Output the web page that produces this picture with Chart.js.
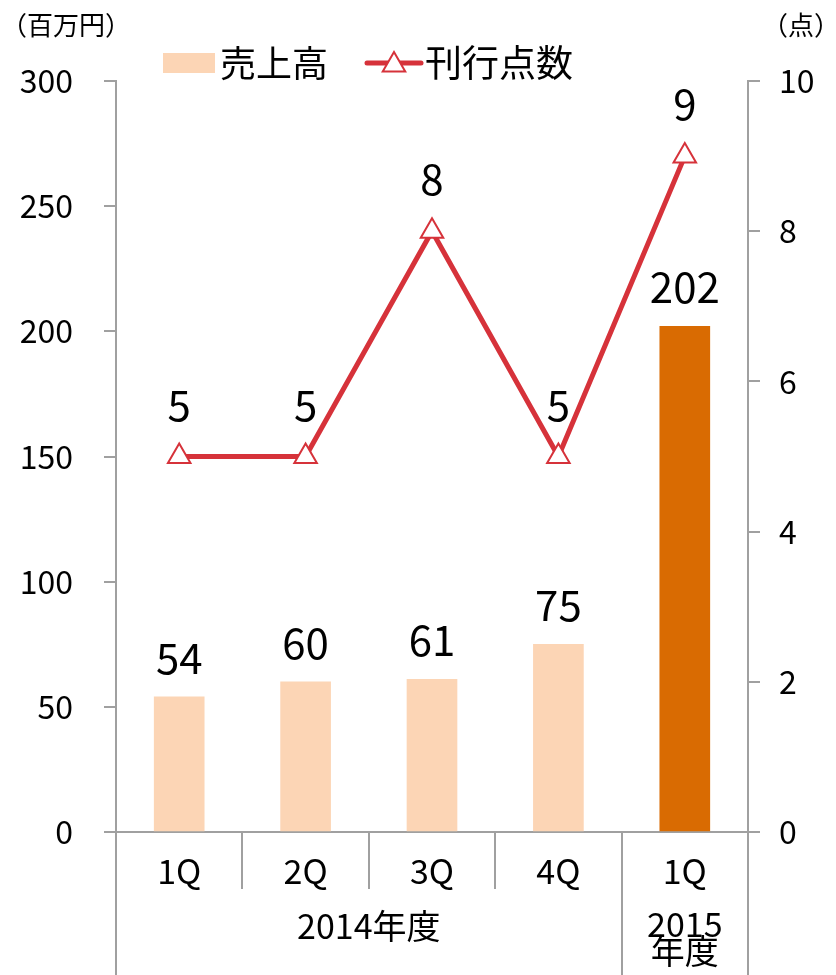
<!DOCTYPE html>
<html>
<head>
<meta charset="utf-8">
<script src="https://cdn.jsdelivr.net/npm/chart.js@4/dist/chart.umd.min.js"></script>
<style>
  html, body { margin: 0; padding: 0; background: #fff; }
  #wrap { width: 836px; height: 975px; }
</style>
</head>
<body>
<div id="wrap"><canvas id="chart" width="836" height="975"></canvas></div>
<script>
    // データ
    const categories = ['1Q', '2Q', '3Q', '4Q', '1Q'];
    const fiscalYears = [['2014年度'], ['2015', '年度']];
    const fiscalYearSpans = [[0, 3], [4, 4]];   // 先頭と末尾のカテゴリ番号
    const salesValues = [54, 60, 61, 75, 202];      // 売上高（百万円）
    const titleCounts = [5, 5, 8, 5, 9];            // 刊行点数（点）
    const salesTicks = [0, 50, 100, 150, 200, 250, 300];
    const countTicks = [0, 2, 4, 6, 8, 10];

    const salesLabel = '売上高';
    const countLabel = '刊行点数';
    const salesUnit = '（百万円）';
    const countUnit = '（点）';

    // 色
    const lightOrange = '#FCD5B5';
    const darkOrange = '#D96B02';
    const lineRed = '#D6323A';
    const axisGray = '#A0A0A0';
    const fontFamily = "'Noto Sans CJK JP', 'Noto Sans', sans-serif";

    Chart.defaults.font.family = fontFamily;
    Chart.defaults.color = '#000';

    // 三角マーカー（Chart.jsと同じ形）
    function drawTriangle(ctx, x, y, r) {
        let rad = 0;
        ctx.beginPath();
        for (let i = 0; i < 3; i++) {
            const px = x + Math.sin(rad) * r;
            const py = y - Math.cos(rad) * r;
            if (i === 0) ctx.moveTo(px, py); else ctx.lineTo(px, py);
            rad += Math.PI * 2 / 3;
        }
        ctx.closePath();
        ctx.fillStyle = '#fff';
        ctx.fill();
        ctx.strokeStyle = lineRed;
        ctx.lineWidth = 2;
        ctx.stroke();
    }

    // 値ラベル、凡例、単位、年度区切り
    const decorations = {
        id: 'decorations',
        afterDatasetsDraw(chart) {
            const ctx = chart.ctx;
            ctx.save();
            ctx.fillStyle = '#000';
            ctx.textAlign = 'center';
            ctx.textBaseline = 'alphabetic';
            ctx.font = '42px ' + fontFamily;
            chart.getDatasetMeta(1).data.forEach((bar, i) => {
                ctx.fillText(String(salesValues[i]), bar.x, bar.y - 23);
            });
            chart.getDatasetMeta(0).data.forEach((pt, i) => {
                ctx.fillText(String(titleCounts[i]), pt.x, pt.y - 36);
            });
            ctx.restore();
        },
        afterDraw(chart) {
            const ctx = chart.ctx;
            const x = chart.scales.x;
            const area = chart.chartArea;
            const step = (x.right - x.left) / categories.length;
            ctx.save();

            // カテゴリ区切り線
            ctx.strokeStyle = axisGray;
            ctx.lineWidth = 2;
            const groupEdges = [];
            fiscalYearSpans.forEach(s => { groupEdges.push(s[0]); groupEdges.push(s[1] + 1); });
            for (let i = 0; i <= categories.length; i++) {
                const px = Math.round(x.left + i * step);
                const long = groupEdges.includes(i);
                ctx.beginPath();
                ctx.moveTo(px, area.bottom);
                ctx.lineTo(px, long ? chart.height : area.bottom + 57);
                ctx.stroke();
            }

            // 年度ラベル
            ctx.fillStyle = '#000';
            ctx.textAlign = 'center';
            ctx.textBaseline = 'middle';
            ctx.font = '34px ' + fontFamily;
            fiscalYears.forEach((lines, g) => {
                const cx = x.left + (fiscalYearSpans[g][0] + fiscalYearSpans[g][1] + 1) / 2 * step;
                const top = lines.length === 1 ? 926 : 924;
                lines.forEach((t, k) => ctx.fillText(t, cx, top + k * 27));
            });

            // 単位
            ctx.font = '26px ' + fontFamily;
            ctx.textAlign = 'left';
            ctx.fillText(salesUnit, 1, 25);
            ctx.textAlign = 'right';
            ctx.fillText(countUnit, 840, 25);

            // 凡例
            ctx.fillStyle = lightOrange;
            ctx.fillRect(163, 53, 52, 20);
            ctx.fillStyle = '#000';
            ctx.textAlign = 'left';
            ctx.font = '36px ' + fontFamily;
            ctx.fillText(salesLabel, 220, 63);
            ctx.strokeStyle = lineRed;
            ctx.lineWidth = 5;
            ctx.lineCap = 'round';
            ctx.beginPath();
            ctx.moveTo(367, 63);
            ctx.lineTo(421, 63);
            ctx.stroke();
            drawTriangle(ctx, 394, 65, 13);
            ctx.fillStyle = '#000';
            ctx.font = '37px ' + fontFamily;
            ctx.fillText(countLabel, 425, 63);

            ctx.restore();
        }
    };

    const ctx = document.getElementById('chart').getContext('2d');
    new Chart(ctx, {
        type: 'bar',
        data: {
            labels: categories,
            datasets: [{
                type: 'line',
                label: countLabel,
                data: titleCounts,
                yAxisID: 'y2',
                borderColor: lineRed,
                borderWidth: 5,
                tension: 0,
                pointStyle: 'triangle',
                pointRadius: 13,
                pointBackgroundColor: '#fff',
                pointBorderColor: lineRed,
                pointBorderWidth: 2,
                order: 0
            }, {
                type: 'bar',
                label: salesLabel,
                data: salesValues,
                yAxisID: 'y',
                backgroundColor: salesValues.map((v, i) => i === salesValues.length - 1 ? darkOrange : lightOrange),
                barThickness: 50,
                order: 1
            }]
        },
        options: {
            responsive: false,
            animation: false,
            layout: { padding: { top: 81, left: 0, right: 0, bottom: 0 } },
            plugins: {
                legend: { display: false },
                tooltip: { enabled: false }
            },
            scales: {
                x: {
                    offset: true,
                    grid: { display: false },
                    border: { display: true, color: axisGray, width: 2 },
                    ticks: { font: { size: 34 }, color: '#000', padding: 11, maxRotation: 0 },
                    afterFit: (s) => { s.height = 143; }
                },
                y: {
                    position: 'left',
                    min: 0,
                    max: 300,
                    afterBuildTicks: (s) => { s.ticks = salesTicks.map(v => ({ value: v })); },
                    grid: { drawOnChartArea: false, drawTicks: true, tickLength: 12, color: axisGray, lineWidth: 2 },
                    border: { display: true, color: axisGray, width: 2 },
                    ticks: { font: { size: 32 }, color: '#000', padding: 31 },
                    afterFit: (s) => { s.width = 116; }
                },
                y2: {
                    position: 'right',
                    min: 0,
                    max: 10,
                    afterBuildTicks: (s) => { s.ticks = countTicks.map(v => ({ value: v })); },
                    grid: { drawOnChartArea: false, drawTicks: true, tickLength: 12, color: axisGray, lineWidth: 2 },
                    border: { display: true, color: axisGray, width: 2 },
                    ticks: { font: { size: 32 }, color: '#000', padding: 19 },
                    afterFit: (s) => { s.width = 88; }
                }
            }
        },
        plugins: [decorations]
    });
</script>
</body>
</html>
